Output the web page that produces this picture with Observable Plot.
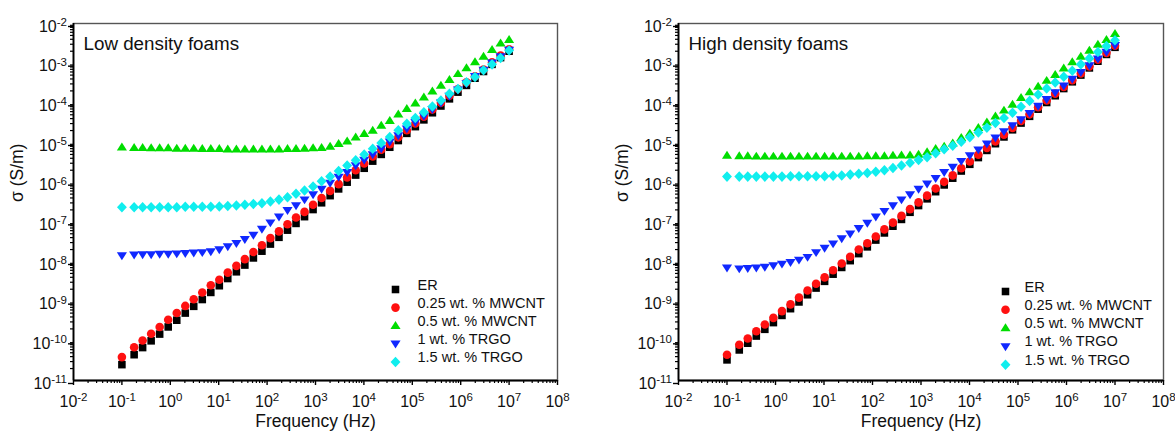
<!DOCTYPE html>
<html><head><meta charset="utf-8">
<script src="https://cdn.jsdelivr.net/npm/d3@7"></script>
<script src="https://cdn.jsdelivr.net/npm/@observablehq/plot@0.6"></script>
<style>
body{margin:0;background:#fff;font-family:"Liberation Sans",Arial,sans-serif;}
#wrap{position:relative;width:1175px;height:437px;overflow:hidden;}
#wrap svg{position:absolute;top:0;}
</style></head><body><div id="wrap"></div>
<script>
// ---- data ----
const freq = [0.1, 0.179, 0.268, 0.402, 0.603, 0.905, 1.36, 2.04, 3.05, 4.58, 6.87, 10.3, 15.4, 23.2, 34.7, 52.1, 78.2, 117, 176, 264, 396, 594, 891, 1336, 2005, 3007, 4511, 6766, 1.015e4, 1.522e4, 2.284e4, 3.425e4, 5.138e4, 7.707e4, 1.156e5, 1.734e5, 2.601e5, 3.902e5, 5.853e5, 8.779e5, 1.317e6, 1.975e6, 2.963e6, 4.444e6, 6.667e6, 1e7];

const seriesNames = ["ER", "0.25 wt. % MWCNT", "0.5 wt. % MWCNT", "1 wt. % TRGO", "1.5 wt. % TRGO"];
const seriesColors = ["#000000", "#ff1010", "#00dd00", "#1028ff", "#10eeee"];

const panelTitles = ["Low density foams", "High density foams"];
const xTickValues = [1e-2, 1e-1, 1e0, 1e1, 1e2, 1e3, 1e4, 1e5, 1e6, 1e7, 1e8];
const yTickValues = [1e-11, 1e-10, 1e-9, 1e-8, 1e-7, 1e-6, 1e-5, 1e-4, 1e-3, 1e-2];

// Low density foams
const lowER = [2.51e-11, 4.47e-11, 6.76e-11, 1.00e-10, 1.48e-10, 2.24e-10, 3.31e-10, 5.01e-10, 7.41e-10, 1.10e-9, 1.66e-9, 2.45e-9, 3.72e-9, 5.50e-9, 8.13e-9, 1.23e-8, 1.82e-8, 2.75e-8, 4.07e-8, 6.17e-8, 9.12e-8, 1.35e-7, 2.04e-7, 3.02e-7, 4.57e-7, 6.76e-7, 1.00e-6, 1.51e-6, 2.24e-6, 3.39e-6, 5.01e-6, 7.59e-6, 1.12e-5, 1.70e-5, 2.51e-5, 3.72e-5, 5.62e-5, 8.32e-5, 1.26e-4, 1.86e-4, 2.75e-4, 4.17e-4, 6.17e-4, 9.33e-4, 1.38e-3, 2.00e-3];
const lowMW025 = [3.89e-11, 6.92e-11, 1.02e-10, 1.51e-10, 2.24e-10, 3.39e-10, 5.01e-10, 7.59e-10, 1.12e-9, 1.66e-9, 2.51e-9, 3.47e-9, 5.25e-9, 7.76e-9, 1.15e-8, 1.74e-8, 2.57e-8, 3.89e-8, 5.75e-8, 8.71e-8, 1.29e-7, 1.78e-7, 2.69e-7, 3.98e-7, 6.03e-7, 8.91e-7, 1.32e-6, 2.00e-6, 2.95e-6, 4.47e-6, 6.61e-6, 9.12e-6, 1.35e-5, 2.04e-5, 3.02e-5, 4.47e-5, 6.76e-5, 1.00e-4, 1.51e-4, 2.24e-4, 3.31e-4, 4.68e-4, 6.92e-4, 1.05e-3, 1.55e-3, 2.24e-3];
const lowMW05 = [7.59e-6, 7.41e-6, 7.41e-6, 7.24e-6, 7.24e-6, 7.24e-6, 7.08e-6, 7.08e-6, 7.08e-6, 6.92e-6, 6.92e-6, 6.92e-6, 6.76e-6, 6.76e-6, 6.76e-6, 6.76e-6, 6.76e-6, 6.76e-6, 6.76e-6, 6.92e-6, 6.92e-6, 7.08e-6, 7.24e-6, 7.41e-6, 7.94e-6, 9.33e-6, 1.07e-5, 1.35e-5, 1.66e-5, 2.00e-5, 2.69e-5, 3.55e-5, 5.13e-5, 7.08e-5, 9.77e-5, 1.38e-4, 1.95e-4, 2.75e-4, 3.80e-4, 5.37e-4, 7.59e-4, 1.07e-3, 1.48e-3, 2.19e-3, 3.16e-3, 3.89e-3];
const lowTR1 = [1.41e-8, 1.48e-8, 1.51e-8, 1.51e-8, 1.55e-8, 1.55e-8, 1.58e-8, 1.62e-8, 1.66e-8, 1.70e-8, 1.78e-8, 2.00e-8, 2.40e-8, 2.88e-8, 3.63e-8, 4.68e-8, 6.61e-8, 9.55e-8, 1.35e-7, 1.95e-7, 2.57e-7, 3.63e-7, 4.90e-7, 6.76e-7, 9.55e-7, 1.35e-6, 1.78e-6, 2.63e-6, 3.63e-6, 5.01e-6, 7.08e-6, 1.05e-5, 1.51e-5, 2.24e-5, 3.24e-5, 4.68e-5, 6.92e-5, 1.00e-4, 1.48e-4, 2.14e-4, 3.09e-4, 4.68e-4, 6.76e-4, 1.02e-3, 1.48e-3, 2.14e-3];
const lowTR15 = [2.34e-7, 2.34e-7, 2.34e-7, 2.34e-7, 2.34e-7, 2.34e-7, 2.34e-7, 2.40e-7, 2.40e-7, 2.40e-7, 2.40e-7, 2.45e-7, 2.51e-7, 2.57e-7, 2.69e-7, 2.82e-7, 2.95e-7, 3.24e-7, 3.63e-7, 4.17e-7, 5.13e-7, 6.17e-7, 7.76e-7, 1.05e-6, 1.38e-6, 1.91e-6, 2.63e-6, 3.55e-6, 5.01e-6, 6.92e-6, 9.77e-6, 1.38e-5, 2.04e-5, 2.95e-5, 4.17e-5, 5.75e-5, 8.13e-5, 1.15e-4, 1.70e-4, 2.24e-4, 3.31e-4, 4.47e-4, 6.61e-4, 9.33e-4, 1.35e-3, 2.09e-3];

// High density foams
const highER = [3.31e-11, 5.89e-11, 8.71e-11, 1.32e-10, 1.95e-10, 2.88e-10, 4.37e-10, 6.46e-10, 9.55e-10, 1.45e-9, 2.14e-9, 3.16e-9, 4.79e-9, 7.08e-9, 1.05e-8, 1.58e-8, 2.34e-8, 3.47e-8, 5.25e-8, 7.76e-8, 1.15e-7, 1.74e-7, 2.57e-7, 3.80e-7, 5.75e-7, 8.51e-7, 1.26e-6, 1.91e-6, 2.82e-6, 4.17e-6, 6.31e-6, 9.33e-6, 1.38e-5, 2.09e-5, 3.09e-5, 4.57e-5, 6.92e-5, 1.02e-4, 1.51e-4, 2.29e-4, 3.39e-4, 5.01e-4, 7.59e-4, 1.12e-3, 1.66e-3, 2.51e-3];
const highMW025 = [4.47e-11, 7.94e-11, 1.15e-10, 1.74e-10, 2.57e-10, 3.80e-10, 5.62e-10, 8.32e-10, 1.23e-9, 1.86e-9, 2.75e-9, 3.98e-9, 6.03e-9, 8.91e-9, 1.32e-8, 2.00e-8, 2.88e-8, 4.27e-8, 6.46e-8, 9.55e-8, 1.41e-7, 2.09e-7, 3.09e-7, 4.57e-7, 6.92e-7, 1.02e-6, 1.48e-6, 2.24e-6, 3.31e-6, 4.90e-6, 7.24e-6, 1.07e-5, 1.58e-5, 2.34e-5, 3.47e-5, 5.13e-5, 7.76e-5, 1.15e-4, 1.70e-4, 2.51e-4, 3.72e-4, 5.50e-4, 8.32e-4, 1.23e-3, 1.82e-3, 2.75e-3];
const highMW05 = [4.68e-6, 4.57e-6, 4.57e-6, 4.47e-6, 4.47e-6, 4.47e-6, 4.47e-6, 4.47e-6, 4.47e-6, 4.47e-6, 4.47e-6, 4.47e-6, 4.47e-6, 4.47e-6, 4.47e-6, 4.47e-6, 4.57e-6, 4.57e-6, 4.57e-6, 4.68e-6, 4.79e-6, 4.79e-6, 5.01e-6, 5.75e-6, 6.92e-6, 7.94e-6, 9.55e-6, 1.32e-5, 1.70e-5, 2.34e-5, 3.24e-5, 4.57e-5, 6.46e-5, 9.12e-5, 1.35e-4, 1.86e-4, 2.57e-4, 3.63e-4, 5.13e-4, 7.41e-4, 1.07e-3, 1.48e-3, 2.09e-3, 2.95e-3, 3.89e-3, 5.50e-3];
const highTR1 = [6.92e-9, 6.61e-9, 6.76e-9, 6.92e-9, 7.24e-9, 7.94e-9, 8.71e-9, 9.55e-9, 1.10e-8, 1.29e-8, 1.70e-8, 2.19e-8, 2.82e-8, 3.80e-8, 5.01e-8, 6.92e-8, 9.33e-8, 1.35e-7, 1.86e-7, 2.57e-7, 3.63e-7, 4.90e-7, 6.76e-7, 9.12e-7, 1.26e-6, 1.78e-6, 2.40e-6, 3.39e-6, 4.68e-6, 6.61e-6, 9.33e-6, 1.32e-5, 1.91e-5, 2.69e-5, 3.80e-5, 5.50e-5, 8.32e-5, 1.23e-4, 1.82e-4, 2.69e-4, 3.98e-4, 5.89e-4, 8.71e-4, 1.29e-3, 1.91e-3, 2.82e-3];
const highTR15 = [1.38e-6, 1.38e-6, 1.38e-6, 1.38e-6, 1.38e-6, 1.38e-6, 1.38e-6, 1.41e-6, 1.41e-6, 1.41e-6, 1.41e-6, 1.41e-6, 1.45e-6, 1.48e-6, 1.55e-6, 1.62e-6, 1.70e-6, 1.82e-6, 2.00e-6, 2.29e-6, 2.63e-6, 3.09e-6, 3.63e-6, 4.27e-6, 5.37e-6, 6.76e-6, 8.32e-6, 1.05e-5, 1.35e-5, 1.78e-5, 2.34e-5, 3.09e-5, 4.17e-5, 5.62e-5, 7.94e-5, 1.12e-4, 1.62e-4, 2.29e-4, 3.24e-4, 4.57e-4, 6.46e-4, 9.33e-4, 1.32e-3, 1.91e-3, 2.69e-3, 3.80e-3];

const lowSeries = [lowER, lowMW025, lowMW05, lowTR1, lowTR15];
const highSeries = [highER, highMW025, highMW05, highTR1, highTR15];

// ---- symbols ----
const symSquare = {draw(c, size){ const r = Math.sqrt(size/Math.PI), s = r*0.88; c.moveTo(-s,-s); c.lineTo(s,-s); c.lineTo(s,s); c.lineTo(-s,s); c.closePath(); }};
const symCircle = {draw(c, size){ const r = Math.sqrt(size/Math.PI); c.moveTo(r,0); c.arc(0,0,r,0,2*Math.PI); c.closePath(); }};
const symTriUp = {draw(c, size){ const r = Math.sqrt(size/Math.PI), k = r/4; c.moveTo(0,-4.4*k); c.lineTo(4.7*k,3.0*k); c.lineTo(-4.7*k,3.0*k); c.closePath(); }};
const symTriDown = {draw(c, size){ const r = Math.sqrt(size/Math.PI), k = r/4; c.moveTo(0,4.4*k); c.lineTo(4.7*k,-3.0*k); c.lineTo(-4.7*k,-3.0*k); c.closePath(); }};
const symDiamond = {draw(c, size){ const r = Math.sqrt(size/Math.PI), k = r/4; c.moveTo(0,-4.9*k); c.lineTo(4.6*k,0); c.lineTo(0,4.9*k); c.lineTo(-4.6*k,0); c.closePath(); }};
const seriesSymbols = [symSquare, symCircle, symTriUp, symTriDown, symDiamond];

// minor ticks
const minorX = [], minorY = [];
for (let k = -2; k < 8; ++k) for (let m = 2; m < 10; ++m) minorX.push(m * Math.pow(10, k));
for (let k = -11; k < -2; ++k) for (let m = 2; m < 10; ++m) minorY.push(m * Math.pow(10, k));

const fmt = d => "10^" + Math.round(Math.log10(d));
const FONT = "'Liberation Sans', Arial, Helvetica, sans-serif";
const R = 4.3;

function panel(title, seriesVals, o) {
  const dotMarks = seriesVals.map((vals, j) =>
    Plot.dot(freq.map((f, i) => ({f, s: vals[i]})), {x: "f", y: "s", r: R, symbol: seriesSymbols[j], fill: seriesColors[j]})
  );
  const legendMarks = [];
  seriesNames.forEach((name, j) => {
    legendMarks.push(Plot.dot([name], {frameAnchor: "bottom-right", dx: o.legDotX, dy: o.legY + j * o.legStep, r: R, symbol: seriesSymbols[j], fill: seriesColors[j]}));
    legendMarks.push(Plot.text([name], {frameAnchor: "bottom-right", dx: o.legTextX, dy: o.legY + j * o.legStep, text: d => d, textAnchor: "start", fontSize: 14.5, fill: "#111"}));
  });
  const svg = Plot.plot({
    width: o.width, height: 437,
    marginLeft: o.ml, marginRight: o.mr, marginTop: 23, marginBottom: 57,
    x: {type: "log", domain: [1e-2, 1e8], axis: null},
    y: {type: "log", domain: [1e-11, 1e-2], axis: null},
    style: {fontFamily: FONT, fontSize: "16px", color: "#000", background: "transparent", overflow: "visible"},
    marks: [
      Plot.frame({stroke: "#555", strokeWidth: 1.4}),
      Plot.axisX({ticks: minorX, tickSize: 3, tickFormat: () => "", stroke: "#000", strokeWidth: 1.2, label: null}),
      Plot.axisY({ticks: minorY, tickSize: 3, tickFormat: () => "", stroke: "#000", strokeWidth: 1.2, label: null}),
      Plot.axisX({ticks: xTickValues, tickSize: 5, tickPadding: 10, tickFormat: fmt, fontSize: 16, stroke: "#000", strokeWidth: 1.4, fill: "#111", label: null}),
      Plot.axisY({ticks: yTickValues, tickSize: 5, tickPadding: 1.5, tickFormat: fmt, fontSize: 16, dy: 3, stroke: "#000", strokeWidth: 1.4, fill: "#111", label: null}),
      Plot.ruleX([1e-2], {stroke: "#000", strokeWidth: 1.8}),
      Plot.ruleY([1e-11], {stroke: "#000", strokeWidth: 1.8}),
      ...dotMarks,
      ...legendMarks,
      Plot.text([title], {frameAnchor: "top-left", dx: 10, dy: 13, text: d => d, textAnchor: "start", lineAnchor: "top", fontSize: 18.8, fill: "#111"}),
      Plot.text(["σ (S/m)"], {frameAnchor: "left", dx: -56, text: d => d, rotate: -90, fontSize: 17.5, fill: "#111"}),
      Plot.text(["Frequency (Hz)"], {frameAnchor: "bottom", dy: 46, text: d => d, fontSize: 17.5, fill: "#111"})
    ]
  });
  // superscript exponents on tick labels
  const ns = "http://www.w3.org/2000/svg";
  svg.querySelectorAll("text").forEach(t => {
    const s = t.textContent;
    if (!/^10\^-?\d+$/.test(s)) return;
    const [b, e] = s.split("^");
    t.textContent = "";
    const t1 = document.createElementNS(ns, "tspan"); t1.textContent = b; t.appendChild(t1);
    const t2 = document.createElementNS(ns, "tspan"); t2.setAttribute("dy", "-0.5em"); t2.setAttribute("font-size", "0.72em"); t2.textContent = e; t.appendChild(t2);
  });
  svg.style.left = o.left + "px";
  return svg;
}

const wrap = document.getElementById("wrap");
wrap.appendChild(panel(panelTitles[0], lowSeries, {left: 0, width: 587, ml: 73, mr: 30, legDotX: -162, legTextX: -140, legY: -91, legStep: 18.1}));
wrap.appendChild(panel(panelTitles[1], highSeries, {left: 587, width: 588, ml: 91, mr: 12, legDotX: -158, legTextX: -139, legY: -89, legStep: 18.3}));
</script></body></html>
